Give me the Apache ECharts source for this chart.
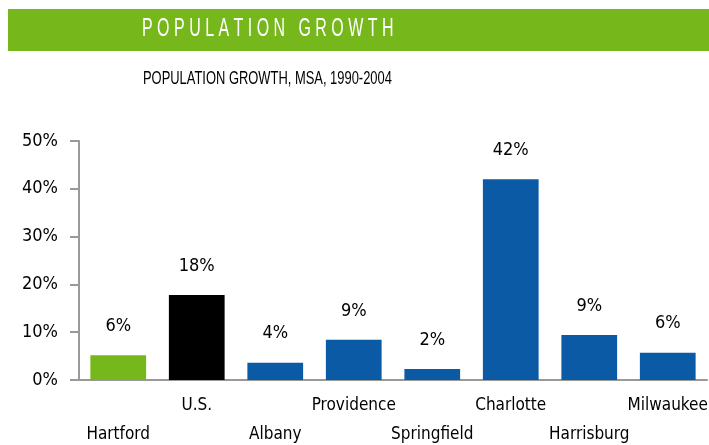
<!DOCTYPE html>
<html>
<head>
<meta charset="utf-8">
<script src="https://cdn.jsdelivr.net/npm/echarts@6/dist/echarts.min.js"></script>
<style>html,body{margin:0;padding:0;background:#fff}#c{width:709px;height:445px}</style>
</head>
<body>
<div id="c"></div>
<script>
const categories = ['Hartford', 'U.S.', 'Albany', 'Providence', 'Springfield', 'Charlotte', 'Harrisburg', 'Milwaukee'];
const values = [5.2, 17.8, 3.6, 8.4, 2.3, 42.0, 9.4, 5.7];
const valueLabels = ['6%', '18%', '4%', '9%', '2%', '42%', '9%', '6%'];
const barColors = ['#76b71b', '#000000', '#0a5aa5', '#0a5aa5', '#0a5aa5', '#0a5aa5', '#0a5aa5', '#0a5aa5'];
const yTicks = [0, 10, 20, 30, 40, 50];

const FONT = '"DejaVu Sans Condensed", "Liberation Sans Narrow", "Liberation Sans", sans-serif';
const chart = echarts.init(document.getElementById('c'));
chart.setOption({
  animation: false,
  textStyle: { fontFamily: FONT },
  graphic: [
    { type: 'rect', shape: { x: 8, y: 9, width: 701, height: 42 }, style: { fill: '#76b71b' } },
    { type: 'text', x: 142, y: 17, scaleX: 0.64, style: { text: 'P O P U L A T I O N   G R O W T H', fill: '#fff', font: '25px "Liberation Sans", sans-serif' } },
    { type: 'text', x: 143, y: 69, scaleX: 0.68, style: { text: 'POPULATION GROWTH, MSA, 1990-2004', fill: '#000', font: '19px "Liberation Sans", sans-serif' } }
  ],
  grid: { left: 79, right: 2, top: 141, bottom: 65, containLabel: false, outerBoundsMode: 'none' },
  xAxis: {
    type: 'category',
    data: categories,
    axisLine: { lineStyle: { color: '#999', width: 2 } },
    axisTick: { length: 8, lineStyle: { color: '#999', width: 2 } },
    axisLabel: {
      interval: 0, margin: 11, color: '#000', fontSize: 17, lineHeight: 29, fontFamily: FONT,
      formatter: (v, i) => (i % 2 === 0 ? '\n' + v : v)
    }
  },
  yAxis: {
    type: 'value', min: 0, max: 50, interval: 10,
    axisLine: { show: true, lineStyle: { color: '#999', width: 2 } },
    axisTick: { show: true, length: 9, lineStyle: { color: '#999', width: 2 } },
    splitLine: { show: false },
    axisLabel: { color: '#000', fontSize: 18, margin: 21, fontFamily: FONT, formatter: v => yTicks.includes(v) ? v + '%' : '' }
  },
  series: [{
    type: 'bar',
    barCategoryGap: '29%',
    data: values.map((v, i) => ({ value: v, itemStyle: { color: barColors[i] } })),
    label: {
      show: true, position: 'top', distance: 20, color: '#000', fontSize: 18, fontFamily: FONT,
      formatter: p => valueLabels[p.dataIndex]
    }
  }]
});
</script>
</body>
</html>
